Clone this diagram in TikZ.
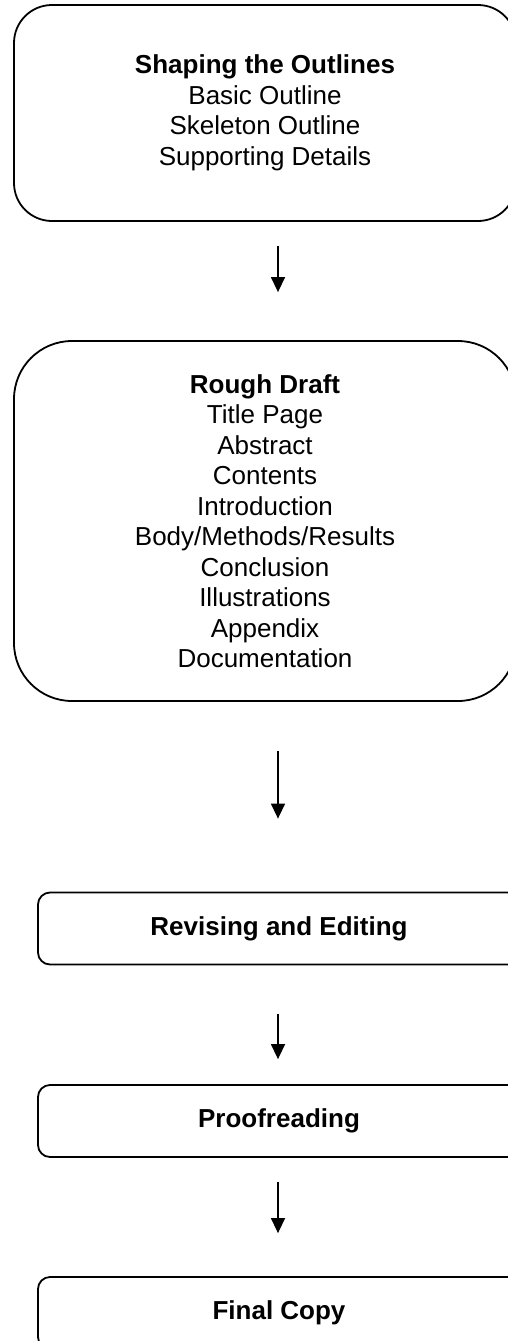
\documentclass[tikz,border=0pt]{standalone}
\usepackage{fontspec}
\setmainfont{Liberation Sans}
\usetikzlibrary{arrows.meta}
\tikzset{
  stagebox/.style={draw, line width=1.8pt, align=center, inner sep=0pt,
    font=\fontsize{26}{30.5}\selectfont},
  bigbox/.style={stagebox, minimum width=502pt},
  smallbox/.style={stagebox, rounded corners=12pt, minimum width=482pt, minimum height=72pt},
  flowarrow/.style={line width=1.4pt, -{Triangle[width=14pt,length=15pt]}}
}
\begin{document}
\begin{tikzpicture}[x=1pt,y=-1pt]
  \useasboundingbox (0,0) rectangle (508,1341);
  \clip (0,0) rectangle (508,1341);
  \coordinate (ax) at (278,0);

  % Outlines
  \node[bigbox, rounded corners=38pt, minimum height=216pt] (outline) at (265,113)
    {\textbf{Shaping the Outlines}\\Basic Outline\\Skeleton Outline\\Supporting Details};

  % Rough draft
  \node[bigbox, rounded corners=58pt, minimum height=360pt] (draft) at (265,521)
    {\textbf{Rough Draft}\\Title Page\\Abstract\\Contents\\Introduction\\Body/Methods/Results\\Conclusion\\Illustrations\\Appendix\\Documentation};

  % Remaining steps
  \node[smallbox] (revise) at (279,928.5) {\textbf{Revising and Editing}};
  \node[smallbox] (proof) at (279,1121) {\textbf{Proofreading}};
  \node[smallbox] (final) at (279,1313) {\textbf{Final Copy}};

  % Arrows
  \draw[flowarrow, shorten <=24pt, shorten >=48pt] (outline.south -| ax) -- (draft.north -| ax);
  \draw[flowarrow, shorten <=49pt, shorten >=73pt] (draft.south -| ax) -- (revise.north -| ax);
  \draw[flowarrow, shorten <=49pt, shorten >=25pt] (revise.south -| ax) -- (proof.north -| ax);
  \draw[flowarrow, shorten <=24pt, shorten >=43pt] (proof.south -| ax) -- (final.north -| ax);
\end{tikzpicture}
\end{document}
